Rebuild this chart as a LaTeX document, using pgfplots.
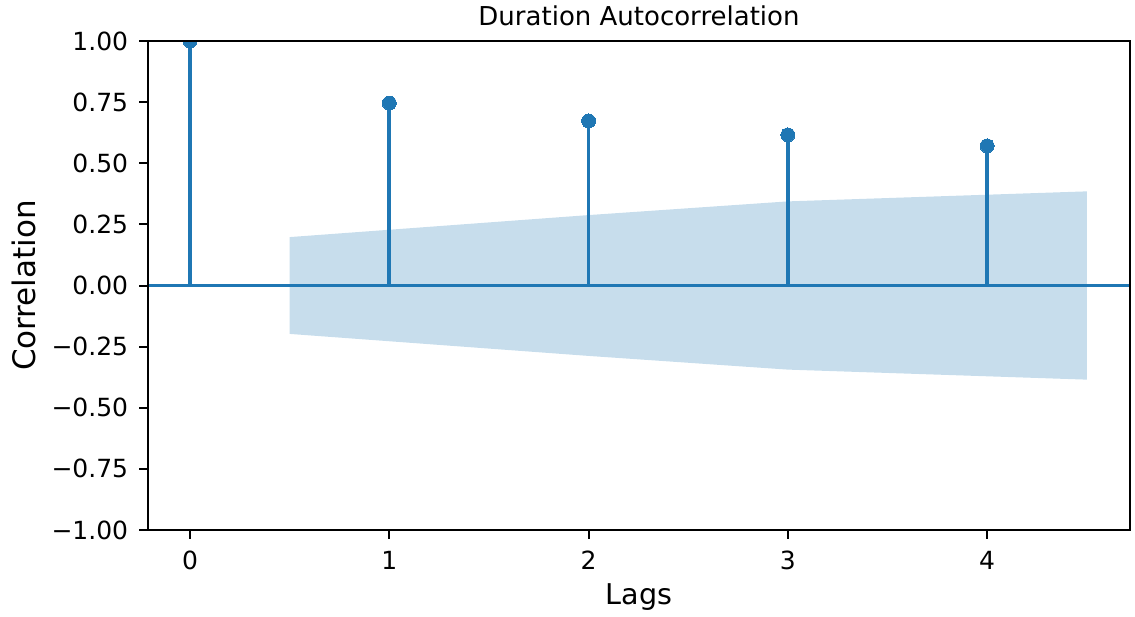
\documentclass[border=0pt]{standalone}
\usepackage{pgfplots}
\pgfplotsset{compat=1.18}
\usepackage{fontspec}
\setmainfont{DejaVu Sans}
\definecolor{c0}{HTML}{1F77B4}
\begin{document}
\begin{tikzpicture}
\begin{axis}[
  scale only axis, width=491pt, height=244.5pt,
  xmin=-0.211, xmax=4.717, ymin=-1, ymax=1,
  xtick={0,1,2,3,4}, xticklabels={0,1,2,3,4},
  ytick={-1,-0.75,-0.5,-0.25,0,0.25,0.5,0.75,1},
  yticklabels={−1.00,−0.75,−0.50,−0.25,0.00,0.25,0.50,0.75,1.00},
  tick align=outside, tick pos=left, major tick length=4.4pt,
  tick style={line width=1pt, black},
  axis line style={line width=1pt, black},
  ticklabel style={font=\fontsize{12.5}{14}\selectfont, text=black},
  xticklabel style={yshift=-2.5pt},
  yticklabel style={xshift=-2pt},
  title={Duration Autocorrelation},
  title style={font=\fontsize{13}{15}\selectfont, at={(axis description cs:0.5,1.026)}, anchor=center},
  xlabel={Lags},
  xlabel style={font=\fontsize{14.3}{16}\selectfont, at={(axis description cs:0.5,-0.137)}, anchor=center},
  ylabel={Correlation},
  ylabel style={font=\fontsize{15.5}{17}\selectfont, at={(axis description cs:-0.126,0.5)}, anchor=center},
  axis on top, clip marker paths=true,
]
\addplot[draw=none, fill=c0, fill opacity=0.25] coordinates {
  (0.5,0.198) (2,0.288) (3,0.344) (4.5,0.385)
  (4.5,-0.385) (3,-0.344) (2,-0.288) (0.5,-0.198)
} -- cycle;
\addplot[c0, line width=1.9pt] coordinates {(-0.211,0) (4.717,0)};
\addplot[ycomb, c0, line width=1.9pt, mark=*, mark size=3.5pt, mark options={solid, fill=c0, draw=c0, line width=0pt}] coordinates {
  (0,1) (1,0.746) (2,0.673) (3,0.616) (4,0.571)
};
\end{axis}
\pgfresetboundingbox
\path ([shift={(-74pt,-43pt)}]current axis.south west) rectangle ([shift={(2.5pt,20.5pt)}]current axis.north east);
\end{tikzpicture}
\end{document}
